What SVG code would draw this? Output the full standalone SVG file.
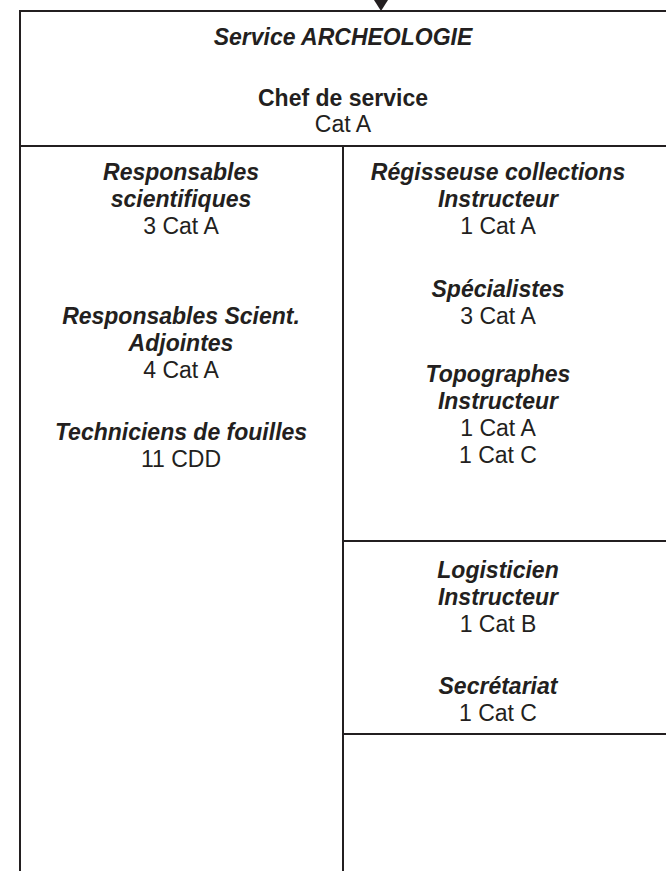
<svg xmlns="http://www.w3.org/2000/svg" width="666" height="871" viewBox="0 0 666 871">
<style>
.ln{stroke:#231f20;stroke-width:2;fill:none}
.ah{fill:#231f20;stroke:none}
text{font-family:"Liberation Sans",Arial,sans-serif;font-size:23px;fill:#231f20;text-anchor:middle}
.bi{font-weight:bold;font-style:italic}
.b{font-weight:bold}
</style>
<rect width="666" height="871" fill="#fff"/>
<g id="connectors">
<path d="M374,0 L388,0 L381,11 Z" class="ah"/>
</g>
<g id="frame">
<line x1="20" y1="11" x2="666" y2="11" class="ln"/>
<line x1="20" y1="10" x2="20" y2="871" class="ln"/>
<line x1="20" y1="146" x2="666" y2="146" class="ln"/>
<line x1="343" y1="146" x2="343" y2="871" class="ln"/>
<line x1="343" y1="541" x2="666" y2="541" class="ln"/>
<line x1="343" y1="734" x2="666" y2="734" class="ln"/>
</g>
<g id="service">
<text x="343" y="45" class="bi">Service ARCHEOLOGIE</text>
<text x="343" y="106" class="b">Chef de service</text>
<text x="343" y="132">Cat A</text>
</g>
<g id="left">
<text x="181" y="180" class="bi">Responsables</text>
<text x="181" y="207" class="bi">scientifiques</text>
<text x="181" y="234">3 Cat A</text>
<text x="181" y="324" class="bi">Responsables Scient.</text>
<text x="181" y="351" class="bi">Adjointes</text>
<text x="181" y="378">4 Cat A</text>
<text x="181" y="440" class="bi">Techniciens de fouilles</text>
<text x="181" y="467">11 CDD</text>
</g>
<g id="right-top">
<text x="498" y="180" class="bi">Régisseuse collections</text>
<text x="498" y="207" class="bi">Instructeur</text>
<text x="498" y="234">1 Cat A</text>
<text x="498" y="297" class="bi">Spécialistes</text>
<text x="498" y="324">3 Cat A</text>
<text x="498" y="382" class="bi">Topographes</text>
<text x="498" y="409" class="bi">Instructeur</text>
<text x="498" y="436">1 Cat A</text>
<text x="498" y="463">1 Cat C</text>
</g>
<g id="right-mid">
<text x="498" y="578" class="bi">Logisticien</text>
<text x="498" y="605" class="bi">Instructeur</text>
<text x="498" y="632">1 Cat B</text>
<text x="498" y="694" class="bi">Secrétariat</text>
<text x="498" y="721">1 Cat C</text>
</g>
</svg>
